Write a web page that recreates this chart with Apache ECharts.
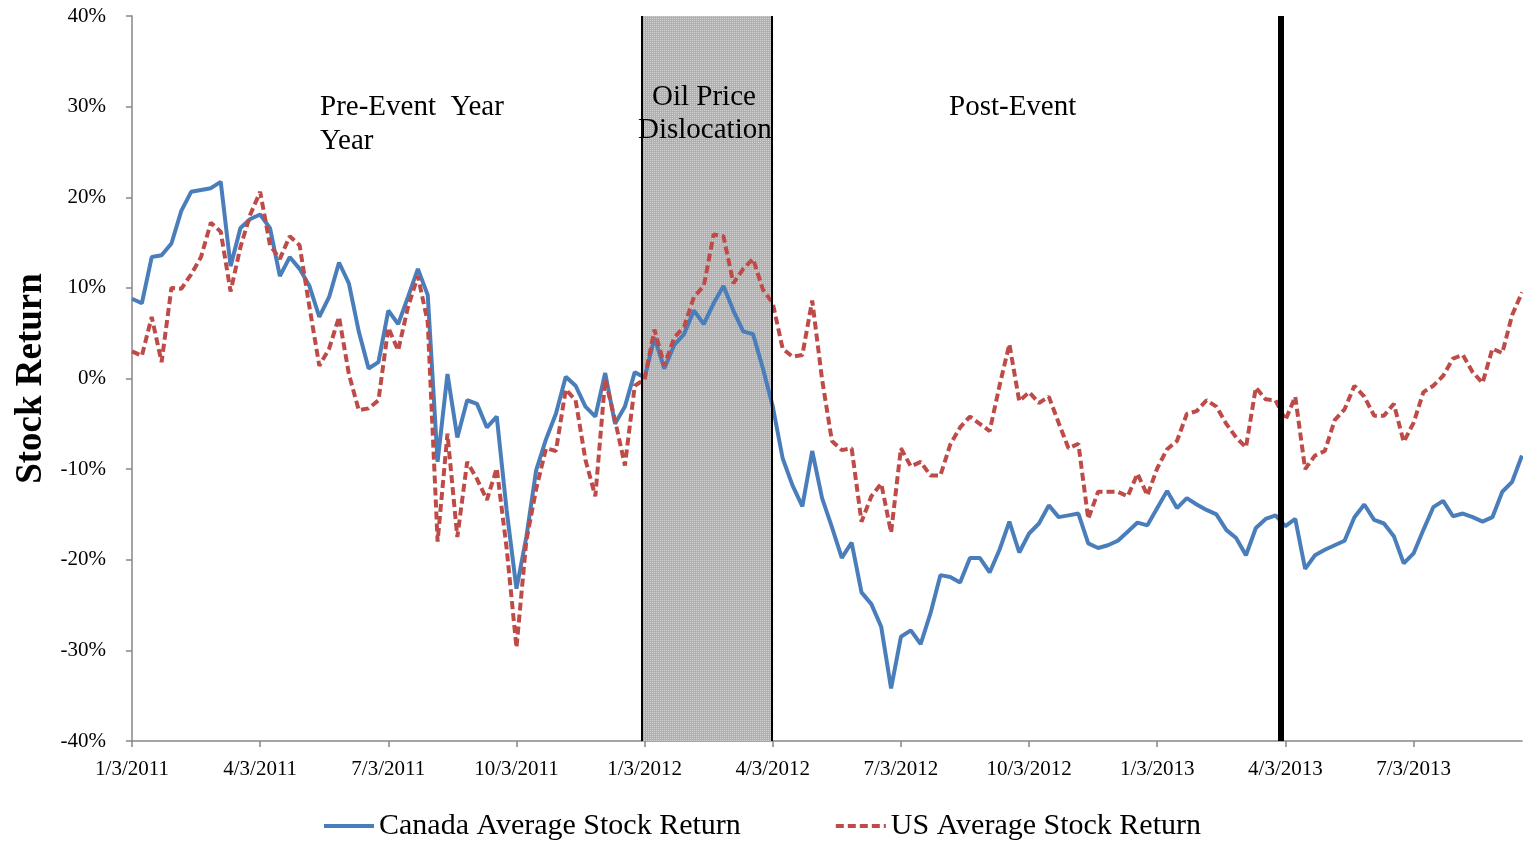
<!DOCTYPE html>
<html>
<head>
<meta charset="utf-8">
<script src="https://cdn.jsdelivr.net/npm/echarts@6/dist/echarts.min.js"></script>
<style>
html, body { margin: 0; padding: 0; background: #fff; }
#chart { width: 1523px; height: 841px; }
</style>
</head>
<body>
<div id="chart"></div>
<script>
// weekly samples, index 0 = 1/3/2011, 13 weeks per quarter
var tickLabels = ['1/3/2011', '4/3/2011', '7/3/2011', '10/3/2011', '1/3/2012', '4/3/2012',
	'7/3/2012', '10/3/2012', '1/3/2013', '4/3/2013', '7/3/2013'];

var canada = [
	8.8, 8.3, 13.4, 13.6, 14.9, 18.5, 20.6, 20.8, 21.0, 21.7,
	12.4, 16.6, 17.6, 18.1, 16.6, 11.3, 13.4, 12.1, 10.2, 6.8,
	9.0, 12.8, 10.5, 5.2, 1.1, 1.8, 7.5, 6.0, 9.0, 12.1,
	9.2, -9.2, 0.5, -6.5, -2.4, -2.8, -5.4, -4.2, -14.5, -23.2,
	-17.5, -10.1, -6.7, -3.9, 0.2, -0.8, -3.1, -4.2, 0.6, -5.0,
	-3.1, 0.7, 0.1, 4.5, 1.1, 3.7, 4.9, 7.5, 6.0, 8.3,
	10.2, 7.5, 5.2, 4.9, 1.1, -3.1, -8.8, -11.8, -14.1, -8.0,
	-13.2, -16.4, -19.8, -18.1, -23.6, -24.9, -27.4, -34.2, -28.5, -27.8,
	-29.3, -25.9, -21.7, -21.9, -22.5, -19.8, -19.8, -21.4, -18.9, -15.8,
	-19.2, -17.1, -16.0, -14.0, -15.3, -15.1, -14.9, -18.2, -18.7, -18.4,
	-17.9, -16.9, -15.9, -16.2, -14.3, -12.4, -14.3, -13.2, -13.9, -14.5,
	-15.0, -16.7, -17.6, -19.5, -16.5, -15.5, -15.1, -16.3, -15.5, -21.0,
	-19.5, -18.9, -18.4, -17.9, -15.3, -13.9, -15.6, -16.0, -17.4, -20.4,
	-19.3, -16.7, -14.2, -13.5, -15.2, -14.9, -15.3, -15.8, -15.3, -12.5,
	-11.4, -8.5
];

var us = [
	3.0, 2.5, 6.8, 1.8, 10.0, 9.9, 11.5, 13.4, 17.2, 16.2,
	9.6, 14.5, 18.1, 20.6, 14.7, 13.2, 15.7, 14.7, 7.9, 1.4,
	3.3, 6.8, 0.5, -3.5, -3.3, -2.4, 5.6, 3.1, 7.9, 11.3,
	6.2, -18.0, -6.1, -17.5, -9.2, -11.1, -13.4, -9.9, -18.7, -29.7,
	-17.9, -12.2, -7.7, -8.0, -1.2, -2.4, -9.0, -13.0, -0.1, -4.6,
	-9.6, -0.8, -0.1, 5.4, 1.4, 4.5, 5.7, 9.0, 10.2, 15.9,
	15.7, 10.5, 12.1, 13.2, 9.8, 8.3, 3.3, 2.4, 2.6, 8.6,
	-0.1, -6.9, -7.9, -7.7, -15.8, -13.0, -11.6, -17.0, -7.7, -9.7,
	-9.2, -10.7, -10.7, -7.3, -5.4, -4.2, -5.0, -5.8, -0.8, 3.8,
	-2.5, -1.5, -2.7, -2.0, -4.9, -7.7, -7.2, -15.5, -12.5, -12.5,
	-12.5, -13.0, -10.5, -12.9, -9.9, -7.8, -6.9, -3.9, -3.6, -2.4,
	-3.1, -5.0, -6.5, -7.6, -1.0, -2.3, -2.4, -4.6, -2.0, -10.0,
	-8.5, -8.0, -4.6, -3.4, -0.8, -2.0, -4.1, -4.1, -2.8, -7.0,
	-4.9, -1.5, -0.8, 0.3, 2.2, 2.6, 0.7, -0.5, 3.3, 2.8,
	7.0, 9.5
];

// event window (in weeks) and the later marker line
var eventStart = 51.7;
var eventEnd = 64.9;
var markerWeek = 116.55;

var font = "'Liberation Serif', 'Times New Roman', serif";
var axisGray = '#868686';

var tickWeeks = tickLabels.map(function (t, k) { return k * 13; });

// dotted gray fill for the shaded window
var pat = document.createElement('canvas');
pat.width = 4;
pat.height = 4;
var pctx = pat.getContext('2d');
pctx.fillStyle = '#b0b0b0';
pctx.fillRect(0, 0, 4, 4);
pctx.fillStyle = '#d2d2d2';
pctx.fillRect(0, 0, 1, 1);
pctx.fillRect(2, 0, 1, 1);
pctx.fillRect(0, 2, 1, 1);
pctx.fillRect(2, 2, 1, 1);

var myChart = echarts.init(document.getElementById('chart'));

var option = {
	animation: false,
	grid: {
		left: 132,
		right: 1,
		top: 16,
		bottom: 100,
		containLabel: false,
		outerBoundsMode: 'none'
	},
	legend: {
		top: 806,
		left: 'center',
		itemWidth: 50,
		itemHeight: 14,
		itemGap: 93,
		itemStyle: { opacity: 0 },
		lineStyle: { width: 4 },
		textStyle: {
			fontFamily: font,
			fontSize: 30,
			color: '#000'
		},
		data: ['Canada Average Stock Return', 'US Average Stock Return']
	},
	xAxis: {
		type: 'value',
		min: 0,
		max: 141,
		interval: 13,
		axisLine: {
			show: true,
			onZero: false,
			lineStyle: { color: axisGray, width: 1.5 }
		},
		axisTick: {
			show: true,
			length: 6,
			customValues: tickWeeks,
			lineStyle: { color: axisGray, width: 1.5 }
		},
		axisLabel: {
			customValues: tickWeeks,
			margin: 18,
			fontFamily: font,
			fontSize: 21,
			color: '#000',
			formatter: function (v) {
				var k = Math.round(v / 13);
				return (v % 13 === 0 && tickLabels[k]) ? tickLabels[k] : '';
			}
		},
		splitLine: { show: false }
	},
	yAxis: {
		type: 'value',
		min: -40,
		max: 40,
		interval: 10,
		name: 'Stock Return',
		nameLocation: 'middle',
		nameGap: 82,
		nameTextStyle: {
			fontFamily: font,
			fontSize: 37,
			fontWeight: 'bold',
			color: '#000'
		},
		axisLine: {
			show: true,
			lineStyle: { color: axisGray, width: 1.5 }
		},
		axisTick: {
			show: true,
			length: 6,
			lineStyle: { color: axisGray, width: 1.5 }
		},
		axisLabel: {
			margin: 26,
			fontFamily: font,
			fontSize: 21,
			color: '#000',
			formatter: '{value}%'
		},
		splitLine: { show: false }
	},
	graphic: [
		{ type: 'text', z: 100, left: 320, top: 93, style: { text: 'Pre-Event  Year', font: '29px ' + font, fill: '#000' } },
		{ type: 'text', z: 100, left: 320, top: 127, style: { text: 'Year', font: '29px ' + font, fill: '#000' } },
		{ type: 'text', z: 100, left: 652, top: 83, style: { text: 'Oil Price', font: '29px ' + font, fill: '#000' } },
		{ type: 'text', z: 100, left: 638, top: 116, style: { text: 'Dislocation', font: '29px ' + font, fill: '#000' } },
		{ type: 'text', z: 100, left: 949, top: 93, style: { text: 'Post-Event', font: '29px ' + font, fill: '#000' } }
	],
	series: [
		{
			name: 'Canada Average Stock Return',
			type: 'line',
			symbol: 'none',
			color: '#4a7ebb',
			lineStyle: { color: '#4a7ebb', width: 4 },
			data: canada.map(function (v, i) { return [i, v]; }),
			markArea: {
				silent: true,
				itemStyle: { color: { image: pat, repeat: 'repeat' } },
				data: [[{ xAxis: eventStart }, { xAxis: eventEnd }]]
			}
		},
		{
			name: 'US Average Stock Return',
			type: 'line',
			symbol: 'none',
			color: '#be4b48',
			lineStyle: { color: '#be4b48', width: 4, type: [8, 4] },
			data: us.map(function (v, i) { return [i, v]; }),
			markLine: {
				silent: true,
				symbol: 'none',
				label: { show: false },
				lineStyle: { color: '#000', type: 'solid', width: 2 },
				data: [
					{ xAxis: eventStart },
					{ xAxis: eventEnd },
					{ xAxis: markerWeek, lineStyle: { color: '#000', type: 'solid', width: 6 } }
				]
			}
		}
	]
};

myChart.setOption(option);
</script>
</body>
</html>
